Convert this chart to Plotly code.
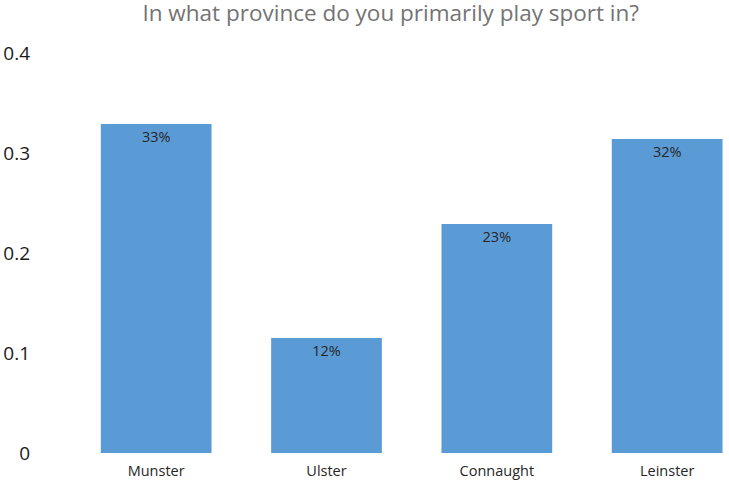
import plotly.graph_objects as go

provinces = ["Munster", "Ulster", "Connaught", "Leinster"]
shares = [0.329, 0.115, 0.229, 0.314]
labels = ["33%", "12%", "23%", "32%"]
y_ticks = [0, 0.1, 0.2, 0.3, 0.4]
y_tick_text = ["0", "0.1", "0.2", "0.3", "0.4"]

fig = go.Figure(go.Bar(
    x=provinces, y=shares, text=labels,
    textposition="inside", insidetextanchor="end",
    textfont=dict(size=14.5, color="#262626", family="Open Sans, sans-serif"),
    marker=dict(color="#5B9BD5", line=dict(width=0)),
    width=0.65,
))

fig.update_layout(
    width=729, height=481,
    margin=dict(l=71, r=0, t=53, b=28),
    paper_bgcolor="white", plot_bgcolor="white",
    showlegend=False,
    title=dict(text="In what province do you primarily play sport in?",
               x=0.536, xanchor="center", y=0.973, yanchor="middle",
               font=dict(size=22.5, color="#737373", family="Open Sans, sans-serif")),
    font=dict(family="Open Sans, sans-serif"),
    uniformtext=dict(mode="show", minsize=8),
)
fig.update_xaxes(range=[-0.5, 3.363], showgrid=False, showline=False, zeroline=False,
                 tickfont=dict(size=14.5, color="#262626"), ticks="", automargin=False,
                 ticklabelstandoff=7)
fig.update_yaxes(range=[0, 0.4], tickvals=y_ticks, ticktext=y_tick_text,
                 showgrid=False, showline=False, zeroline=False, automargin=False,
                 tickfont=dict(size=19, color="#1a1a1a"), ticklabelstandoff=40)

fig.write_html("out.html", config={"displayModeBar": False},
               post_script="document.body.style.margin='0';document.body.style.overflow='hidden';")
